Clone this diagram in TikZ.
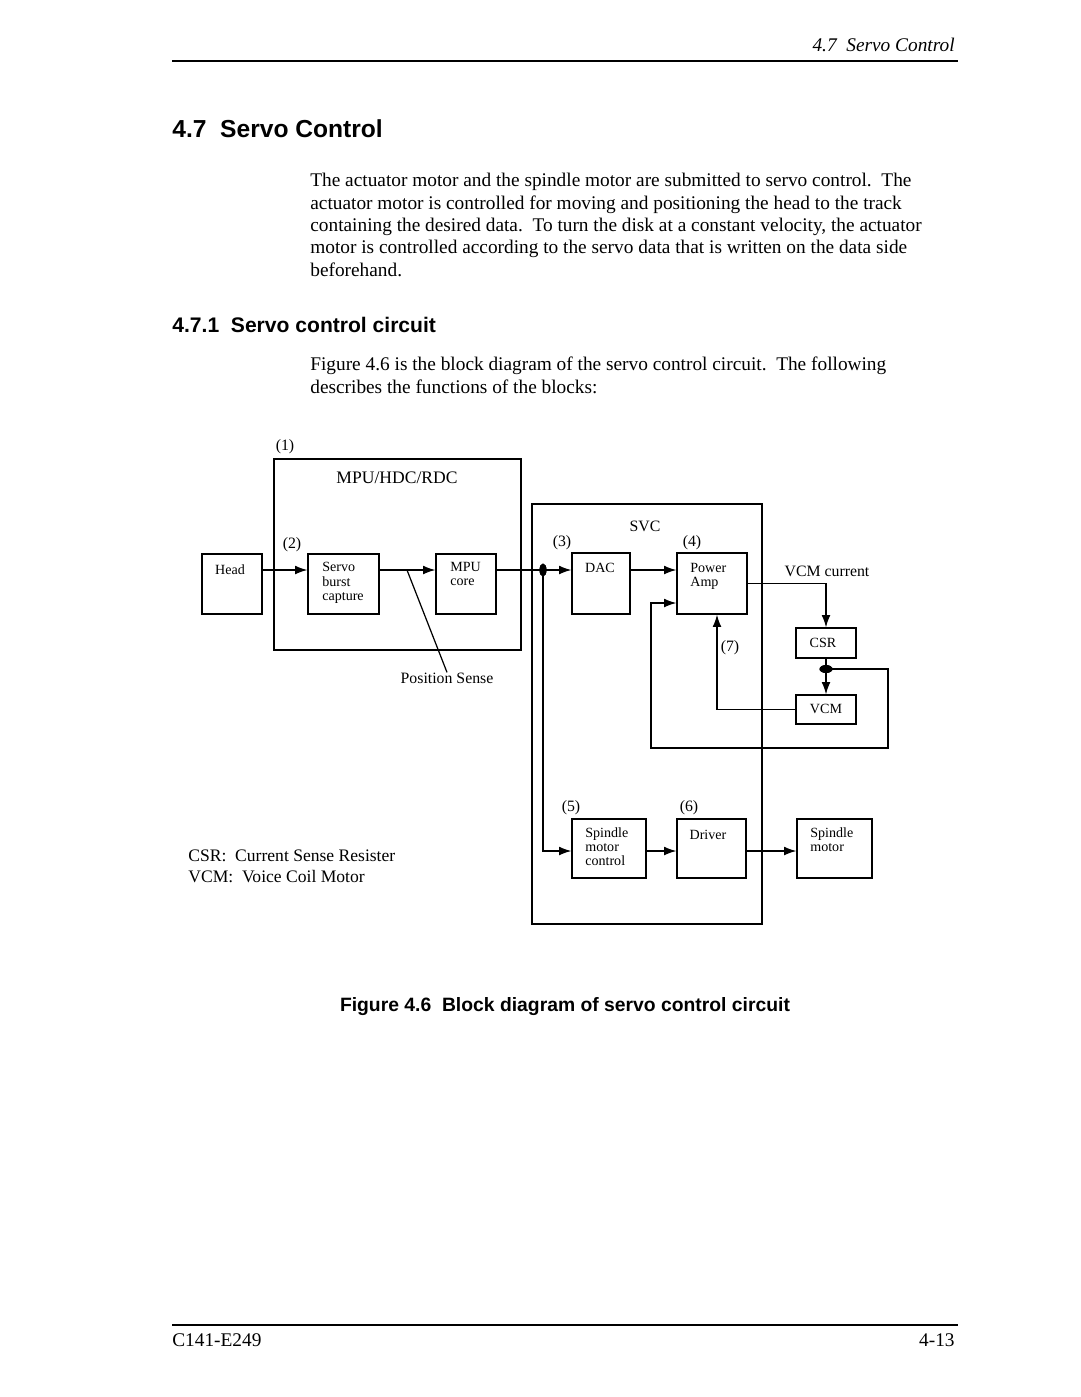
\documentclass[tikz,border=0pt]{standalone}
\usepackage{fontspec}
\setmainfont{Liberation Serif}
\setsansfont{Liberation Sans}
\usetikzlibrary{arrows.meta,shapes.geometric}
\def\px{0.02cm}

\begin{document}
\begin{tikzpicture}[
	x=0.02cm, y=-0.02cm,
	blk/.style={draw, rectangle, line width=0.7pt, inner sep=0pt},
	blktxt/.style={inner sep=0pt, align=left, font=\fontsize{8}{8.2}\selectfont},
	tag/.style={inner sep=0pt, font=\fontsize{9}{10}\selectfont},
	body/.style={anchor=north west, inner sep=0pt, align=left, font=\fontsize{11}{12.75}\selectfont},
	head/.style={anchor=base west, inner sep=0pt, font=\sffamily\bfseries\fontsize{12}{14}\selectfont},
	dot/.style={ellipse, fill=black, inner sep=0pt},
	>={Latex[length=7pt,width=5pt]}
	]

	\useasboundingbox (0,0) rectangle (1080,1397);
	\fill[white] (0,0) rectangle (1080,1397);

	%-----------------------
	% Rows of the signal lines
	%-----------------------
	\def\ysig{570}   % MPU -> DAC -> Power Amp
	\def\yspd{851}   % spindle row
	\coordinate (sig) at (0,\ysig);
	\coordinate (spd) at (0,\yspd);

	%-----------------------
	% Page text
	%-----------------------
	\node[anchor=base east, inner sep=0pt, font=\fontsize{11}{13}\selectfont\itshape] (runhead) at (955,51) {4.7\ \ Servo Control};
	\draw[line width=0.8pt] (172,61) -- (958,61);

	\node[head, font=\sffamily\bfseries\fontsize{14}{16}\selectfont] (sec) at (172,137) {4.7\ \ Servo Control};

	\node[body] (para1) at (310,173) {The actuator motor and the spindle motor are submitted to servo control.\ \ The\\
		actuator motor is controlled for moving and positioning the head to the track\\
		containing the desired data.\ \ To turn the disk at a constant velocity, the actuator\\
		motor is controlled according to the servo data that is written on the data side\\
		beforehand.};

	\node[head] (subsec) at (172,332) {4.7.1\ \ Servo control circuit};

	\node[body] (para2) at (310,357) {Figure 4.6 is the block diagram of the servo control circuit.\ \ The following\\
		describes the functions of the blocks:};

	%-----------------------
	% MPU/HDC/RDC
	%-----------------------
	\node[blk, minimum width=247*\px, minimum height=191*\px] (mpu) at (397.5,554.5) {};
	\node[tag] (n1) at (285,447) {(1)};
	\node[tag, font=\fontsize{10}{11}\selectfont] (mpu-t) at (397,478) {MPU/HDC/RDC};
	\node[tag] (n2) at (292,545) {(2)};

	\node[blk, minimum width=60*\px, minimum height=60*\px] (head) at (232,584) {};
	\node[blktxt] (head-t) at (230,570) {Head};

	\node[blk, minimum width=71*\px, minimum height=60*\px] (sbc) at (343.5,584) {};
	\node[blktxt, anchor=north west] (sbc-t) at (322,562) {Servo\\burst\\capture};

	\node[blk, minimum width=60*\px, minimum height=60*\px] (core) at (466,584) {};
	\node[blktxt, anchor=north west] (core-t) at (450,562) {MPU\\core};

	\node[tag] (pslbl) at (447,678) {Position Sense};

	%-----------------------
	% SVC
	%-----------------------
	\node[blk, minimum width=230*\px, minimum height=420*\px] (svc) at (647,714) {};
	\node[tag] (svc-t) at (645,526) {SVC};
	\node[tag] (n3) at (562,543) {(3)};
	\node[tag] (n4) at (692,543) {(4)};

	\node[blk, minimum width=58*\px, minimum height=61*\px] (dac) at (601,583.5) {};
	\node[blktxt] (dac-t) at (600,568) {DAC};

	\node[blk, minimum width=70*\px, minimum height=61*\px] (amp) at (712,583.5) {};
	\node[blktxt, anchor=north west] (amp-t) at (690,563) {Power\\Amp};

	\node[tag] (n7) at (730,648) {(7)};
	\node[tag] (n5) at (571,808) {(5)};
	\node[tag] (n6) at (689,808) {(6)};

	\node[blk, minimum width=74*\px, minimum height=59*\px] (smc) at (609,848.5) {};
	\node[blktxt, anchor=north west] (smc-t) at (585,827) {Spindle\\motor\\control};

	\node[blk, minimum width=69*\px, minimum height=59*\px] (drv) at (711.5,848.5) {};
	\node[blktxt] (drv-t) at (708,835) {Driver};

	%-----------------------
	% Outside the SVC
	%-----------------------
	\node[tag] (vcmcur) at (827,571) {VCM current};

	\node[blk, minimum width=60*\px, minimum height=30*\px] (csr) at (826,643) {};
	\node[blktxt] (csr-t) at (823,643) {CSR};

	\node[blk, minimum width=60*\px, minimum height=29*\px] (vcm) at (826,709.5) {};
	\node[blktxt] (vcm-t) at (826,709) {VCM};

	\node[blk, minimum width=75*\px, minimum height=59*\px] (spm) at (834.5,848.5) {};
	\node[blktxt, anchor=north west] (spm-t) at (810,827) {Spindle\\motor};

	%-----------------------
	% Legend and caption
	%-----------------------
	\node[anchor=base west, inner sep=0pt, font=\fontsize{10}{11}\selectfont] (leg1) at (188,861) {CSR:\ \ Current Sense Resister};
	\node[anchor=base west, inner sep=0pt, font=\fontsize{10}{11}\selectfont] (leg2) at (188,882) {VCM:\ \ Voice Coil Motor};

	\node[anchor=base, inner sep=0pt, font=\sffamily\bfseries\fontsize{11}{13}\selectfont] (cap) at (565,1011) {Figure 4.6\ \ Block diagram of servo control circuit};

	%-----------------------
	% Page foot
	%-----------------------
	\draw[line width=0.8pt] (172,1325) -- (958,1325);
	\node[anchor=base west, inner sep=0pt, font=\fontsize{11}{13}\selectfont] (docno) at (172,1346) {C141-E249};
	\node[anchor=base east, inner sep=0pt, font=\fontsize{11}{13}\selectfont] (pageno) at (955,1346) {4-13};

	%-----------------------
	% Junctions and bends
	%-----------------------
	\node[dot, minimum width=7*\px, minimum height=13*\px] (jct1) at (543,\ysig) {};
	\node[dot, minimum width=13*\px, minimum height=8*\px] (jct2) at (826,669) {};
	\coordinate (pstap) at (407,\ysig);
	\coordinate (loopr) at (888,748);
	\coordinate (loopl) at (651,603);

	%-----------------------
	% Connections
	%-----------------------
	\tikzset{connect/.style={line width=0.7pt}}

	% signal path
	\draw[connect,->] (head.east |- sig) -- (sbc.west |- sig);
	\draw[connect,->] (sbc.east |- sig) -- (core.west |- sig);
	\draw[connect] (pstap) -- (pslbl.north);
	\draw[connect,->] (core.east |- sig) -- (dac.west |- sig);
	\draw[connect,->] (dac.east |- sig) -- (amp.west |- sig);

	% VCM loop
	\draw[connect,->] (amp.east) -| (csr.north);
	\draw[connect,->] (csr.south) -- (vcm.north);
	\draw[connect,->] (jct2.center) -| (loopr) -| (loopl) -- (amp.west |- loopl);
	\draw[connect,->] (vcm.west) -| ([xshift=5*\px]amp.south);

	% spindle path
	\draw[connect,->] (jct1.center) |- (smc.west |- spd);
	\draw[connect,->] (smc.east |- spd) -- (drv.west |- spd);
	\draw[connect,->] (drv.east |- spd) -- (spm.west |- spd);

	% junction dots on top
	\node[dot, minimum width=7*\px, minimum height=13*\px] at (jct1) {};
	\node[dot, minimum width=13*\px, minimum height=8*\px] at (jct2) {};

\end{tikzpicture}
\end{document}
